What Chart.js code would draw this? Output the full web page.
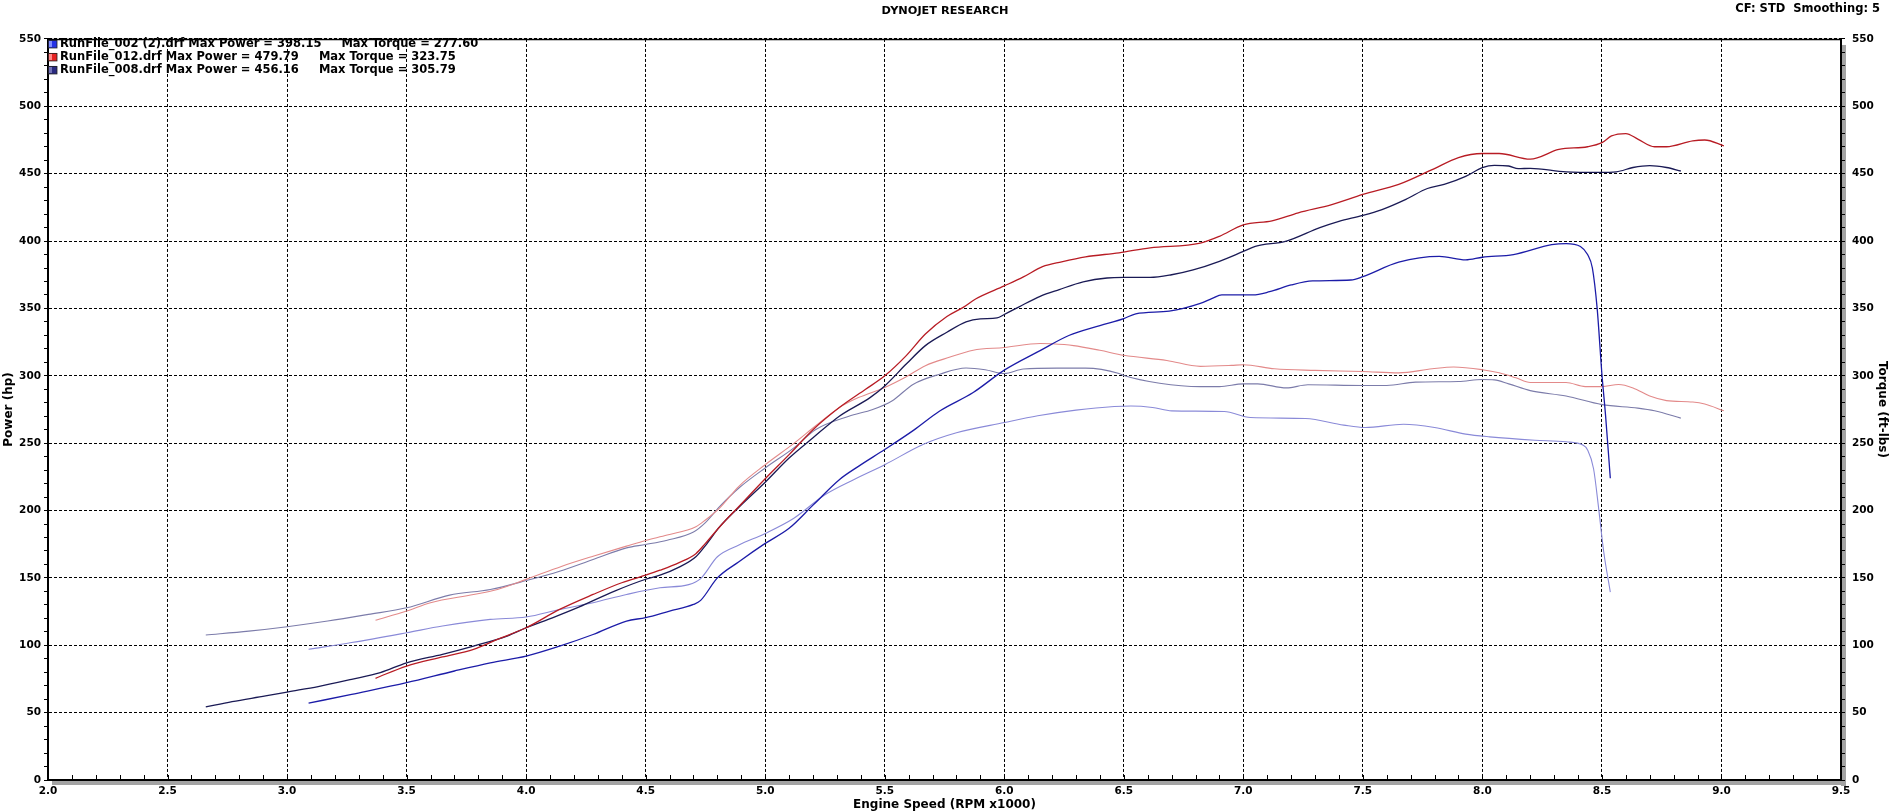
<!DOCTYPE html>
<html><head><meta charset="utf-8">
<script src="https://cdn.jsdelivr.net/npm/chart.js@4.4.1/dist/chart.umd.min.js"></script>
<style>html,body{margin:0;padding:0;background:#fff;overflow:hidden}canvas{display:block}</style>
</head><body>
<canvas id="c" width="1890" height="812"></canvas>
<script>
// ---------- DATA ----------
const chartTitle = 'DYNOJET RESEARCH';
const chartInfo = 'CF: STD  Smoothing: 5';
const xTitle = 'Engine Speed (RPM x1000)';
const yTitle = 'Power (hp)';
const y2Title = 'Torque (ft-lbs)';

const runNames = ['RunFile_002 (2).drf', 'RunFile_012.drf', 'RunFile_008.drf'];
const runMaxPower = ['398.15', '479.79', '456.16'];
const runMaxTorque = ['277.60', '323.75', '305.79'];

// RunFile_002 (2) power
const rpm002P = [3.09,3.27,3.5,3.7,3.85,4.0,4.14,4.28,4.42,4.5,4.6,4.7,4.73,4.8,4.89,5.0,5.1,5.2,5.31,5.39,5.5,5.62,5.73,5.87,6.0,6.15,6.27,6.4,6.5,6.55,6.69,6.82,6.87,6.91,7.04,7.11,7.2,7.29,7.45,7.5,7.65,7.82,7.93,8.0,8.13,8.29,8.35,8.41,8.44,8.46,8.48,8.5,8.515,8.535];
const pow002 = [57,63.6,72.2,80.9,87,92,99.4,108,118,120.5,125.4,130.3,133.3,150,162,175.6,186.8,204,222.9,232.8,245.3,259.5,273.9,287.6,304.2,318.7,329.9,337.3,342.5,346,348,353.7,357.5,360,360,362.4,367.4,370.4,371.1,373.6,384.3,388.6,386,388,390,397.3,398.15,396,390,380,350,301,271,224];
// RunFile_002 (2) torque
const rpm002T = [3.09,3.27,3.5,3.65,3.85,4.0,4.14,4.28,4.42,4.56,4.68,4.73,4.8,4.89,5.0,5.12,5.25,5.37,5.5,5.66,5.8,6.0,6.14,6.3,6.46,6.53,6.62,6.7,6.92,7.03,7.26,7.42,7.51,7.67,7.8,7.93,8.03,8.22,8.35,8.42,8.44,8.465,8.486,8.507,8.535];
const tq002 = [97,102,109.3,114.3,119.2,121,126.6,131.6,137.7,142.7,145,149.5,165.7,174.4,183,194.3,211.7,222.9,234,249,257.7,265.3,270.3,274.5,277.2,277.6,276.5,274,273.5,269,268.3,263.4,261.6,264,261.6,256.7,254.7,252.2,251,248.6,245,231,202,170,139.5];

// RunFile_012 power
const rpm012P = [3.37,3.5,3.65,3.78,3.88,4.0,4.14,4.28,4.4,4.5,4.56,4.64,4.71,4.75,4.81,4.89,5.0,5.1,5.2,5.31,5.42,5.5,5.59,5.67,5.76,5.83,5.88,6.0,6.08,6.16,6.24,6.34,6.48,6.61,6.82,6.9,7.0,7.12,7.23,7.37,7.5,7.65,7.79,7.9,8.0,8.07,8.2,8.32,8.44,8.5,8.54,8.6,8.65,8.72,8.77,8.88,8.93,9.01];
const pow012 = [75.5,84.6,91.3,97,104.4,113,126.6,137.7,146.4,152,155.7,161.4,168,175.6,188,203,223.6,241.5,260,276.4,290,300,315,331,344,351,357,366.7,373.4,381,384.6,388.3,391.3,395,398.5,403.5,412,415,421,427,434.6,442,453,462,465,465,460.8,468,470,473,478,479.79,475.7,470,470,474.4,475,470.7];
// RunFile_012 torque
const rpm012T = [3.37,3.5,3.6,3.78,3.88,4.0,4.15,4.28,4.42,4.5,4.59,4.71,4.75,4.81,4.89,5.0,5.12,5.21,5.31,5.39,5.5,5.59,5.67,5.77,5.87,6.0,6.15,6.2,6.29,6.4,6.5,6.68,6.82,6.95,7.0,7.13,7.3,7.5,7.65,7.79,7.88,8.0,8.07,8.14,8.2,8.35,8.43,8.5,8.57,8.63,8.7,8.77,8.88,8.93,9.01];
const tq012 = [118.5,125.4,131.6,137.7,141.4,148.9,158.7,166.1,173.6,177.8,181.8,188,193,202,218,234,249.8,262.7,276.4,283.8,291.3,299.3,307.5,313.7,319,321,324,323.75,322.4,318.9,315.2,311.4,307,307.7,308.2,305.2,304,303.2,302.2,305.2,306.5,304.5,302.2,298.5,295,295,292,292,293.5,291,285,281.6,280.5,279,274];

// RunFile_008 power
const rpm008P = [2.66,2.77,2.91,3.0,3.13,3.27,3.39,3.5,3.65,3.78,3.92,4.0,4.11,4.22,4.37,4.5,4.56,4.64,4.71,4.75,4.81,4.89,5.0,5.1,5.2,5.31,5.44,5.5,5.59,5.67,5.76,5.84,5.9,5.97,6.0,6.06,6.15,6.23,6.33,6.43,6.5,6.61,6.7,6.79,6.9,7.0,7.05,7.18,7.32,7.4,7.5,7.58,7.68,7.77,7.84,7.93,8.0,8.05,8.11,8.15,8.2,8.35,8.49,8.56,8.63,8.7,8.77,8.83];
const pow008 = [54.2,58.2,62.4,65.3,69.3,74.7,79.7,87,93.3,99.4,106.8,113,120.4,128.3,140.2,149,152,158,165.7,174,188,202.5,221,239,254,270,284,292.5,308.7,322.4,332.3,340,342.3,343,345.5,351,359,364,369.7,372.6,373,373,375,378.6,385,392.3,396,400,410,414.7,419,423.4,431,439,442,448,454.5,456.16,455.7,453.7,454,451.4,451,451.4,454.6,456,454.6,452];
// RunFile_008 torque
const rpm008T = [2.66,2.84,3.0,3.17,3.34,3.5,3.68,3.85,4.0,4.14,4.28,4.42,4.5,4.59,4.7,4.75,4.81,4.89,5.0,5.12,5.21,5.35,5.45,5.53,5.62,5.73,5.84,5.92,6.0,6.08,6.22,6.34,6.48,6.5,6.65,6.82,6.9,7.0,7.06,7.18,7.27,7.5,7.6,7.72,7.9,8.0,8.05,8.11,8.2,8.35,8.5,8.65,8.72,8.83];
const tq008 = [107.6,110.5,113.8,118,122.9,127.8,137.2,141.4,148,155,163.7,172.3,174.8,178,184,191,203,216.7,231.6,246.5,260,270,275,281.3,293.8,301.2,305.79,304.5,301.7,305,305.7,305.7,301.7,300.2,294.5,292,292,294,294,291,293.3,292.8,292.8,295.3,295.8,297.3,297,294,289,285,278.6,276,274,268.6];

// ---------- STYLE ----------
const FONT = '"DejaVu Sans", Verdana, sans-serif';
const colPow = ['#1c1ca8', '#b81c24', '#1a1a55'];
const colTq = ['#8a8ad8', '#e38a8a', '#7c7caa'];
const boxCol = ['#2633e6', '#e62222', '#2a2a80'];
const boxLight = ['#7f8cff', '#ff8a8a', '#7474b8'];

function pts(xs, ys) { return xs.map((x, i) => ({ x: x, y: ys[i] })); }
function onStep(v, s) { const r = v / s; return Math.abs(r - Math.round(r)) < 1e-6; }

const series = [
  { label: 'Power 002', data: pts(rpm002P, pow002), borderColor: colPow[0], borderWidth: 1.3, yAxisID: 'y' },
  { label: 'Power 012', data: pts(rpm012P, pow012), borderColor: colPow[1], borderWidth: 1.3, yAxisID: 'y' },
  { label: 'Power 008', data: pts(rpm008P, pow008), borderColor: colPow[2], borderWidth: 1.3, yAxisID: 'y' },
  { label: 'Torque 002', data: pts(rpm002T, tq002), borderColor: colTq[0], borderWidth: 1.1, yAxisID: 'y2' },
  { label: 'Torque 012', data: pts(rpm012T, tq012), borderColor: colTq[1], borderWidth: 1.1, yAxisID: 'y2' },
  { label: 'Torque 008', data: pts(rpm008T, tq008), borderColor: colTq[2], borderWidth: 1.1, yAxisID: 'y2' }
].map(d => Object.assign(d, { pointRadius: 0, fill: false, cubicInterpolationMode: 'monotone' }));

const decor = {
  id: 'decor',
  beforeDraw(chart) {
    const { ctx, chartArea: a } = chart;
    ctx.save();
    ctx.fillStyle = '#fff';
    ctx.fillRect(0, 0, chart.width, chart.height);
    ctx.fillStyle = '#a3a3a3';
    ctx.fillRect(a.right, a.top + 6, 5, a.bottom - a.top);
    ctx.fillRect(a.left + 4, a.bottom, a.right - a.left + 1, 5);
    ctx.restore();
  },
  afterDraw(chart) {
    const { ctx, chartArea: a } = chart;
    const xs = chart.scales.x;
    ctx.save();
    ctx.strokeStyle = '#000';
    // x tick marks (pointing into the plot)
    ctx.lineWidth = 1;
    ctx.beginPath();
    xs.ticks.forEach(t => {
      const px = Math.round(xs.getPixelForValue(t.value)) + 0.5;
      ctx.moveTo(px, a.bottom);
      ctx.lineTo(px, a.bottom - 5);
    });
    ctx.stroke();
    // top frame line
    ctx.lineWidth = 1.5;
    ctx.beginPath();
    ctx.moveTo(a.left, a.top + 0.5);
    ctx.lineTo(a.right, a.top + 0.5);
    ctx.stroke();
    // header info
    ctx.font = 'bold 11.5px ' + FONT;
    ctx.fillStyle = '#000';
    ctx.textBaseline = 'middle';
    ctx.textAlign = 'right';
    ctx.fillText(chartInfo, 1880, 9.5);
    // legend
    ctx.textAlign = 'left';
    for (let i = 0; i < runNames.length; i++) {
      const by = a.top + 1 + i * 13;
      ctx.fillStyle = boxCol[i];
      ctx.fillRect(a.left, by, 9, 8);
      ctx.fillStyle = boxLight[i];
      ctx.fillRect(a.left + 1, by + 1, 3, 6);
      ctx.strokeStyle = '#222';
      ctx.lineWidth = 0.8;
      ctx.strokeRect(a.left + 0.5, by + 0.5, 8.5, 7.5);
      ctx.fillStyle = '#000';
      const txt = runNames[i] + ' Max Power = ' + runMaxPower[i] + '     Max Torque = ' + runMaxTorque[i];
      ctx.fillText(txt, a.left + 12, by + 4.5);
    }
    ctx.restore();
  }
};

const tickFont = { family: FONT, size: 10.5, weight: 'bold' };
const axisTitleFont = { family: FONT, size: 12, weight: 'bold' };
function yAxis(pos, w, titleText, pad, tpad) {
  return {
    type: 'linear', position: pos, min: 0, max: 550,
    afterFit: s => { s.width = w; },
    ticks: {
      stepSize: 10, autoSkip: false, maxTicksLimit: 1000, color: '#000', font: tickFont, padding: pad,
      callback: v => onStep(v, 50) ? String(Math.round(v)) : ''
    },
    grid: {
      drawOnChartArea: pos === 'left',
      color: c => (c.tick && onStep(c.tick.value, 50)) ? '#000' : 'rgba(0,0,0,0)',
      lineWidth: 1, tickLength: 4, tickColor: '#000', tickWidth: 1
    },
    border: { display: true, color: '#000', width: 2, dash: [3, 2] },
    title: { display: true, text: titleText, color: '#000', font: axisTitleFont, padding: { top: tpad, bottom: 0 } }
  };
}

new Chart(document.getElementById('c'), {
  type: 'line',
  data: { datasets: series },
  plugins: [decor],
  options: {
    responsive: false, animation: false, devicePixelRatio: 1,
    layout: { padding: 0 },
    plugins: {
      legend: { display: false }, tooltip: { enabled: false },
      title: { display: true, text: chartTitle, color: '#000', font: { family: FONT, size: 11.3, weight: 'bold' }, padding: { top: 4, bottom: 21.4 } }
    },
    scales: {
      x: {
        type: 'linear', position: 'bottom', min: 2, max: 9.5,
        afterFit: s => { s.height = 32; },
        ticks: {
          stepSize: 0.1, autoSkip: false, maxTicksLimit: 1000, maxRotation: 0, minRotation: 0,
          color: '#000', font: tickFont, padding: 5,
          callback: v => onStep(v, 0.5) ? Number(v).toFixed(1) : ''
        },
        grid: {
          drawTicks: false,
          color: c => (c.tick && onStep(c.tick.value, 0.5)) ? '#000' : 'rgba(0,0,0,0)',
          lineWidth: 1
        },
        border: { display: true, color: '#000', width: 2, dash: [3, 2] },
        title: { display: true, text: xTitle, color: '#000', font: axisTitleFont, padding: { top: 0, bottom: 0 } }
      },
      y: yAxis('left', 48, yTitle, 3, 1.8),
      y2: yAxis('right', 49, y2Title, 7, 0.8)
    }
  }
});
</script>
</body></html>
